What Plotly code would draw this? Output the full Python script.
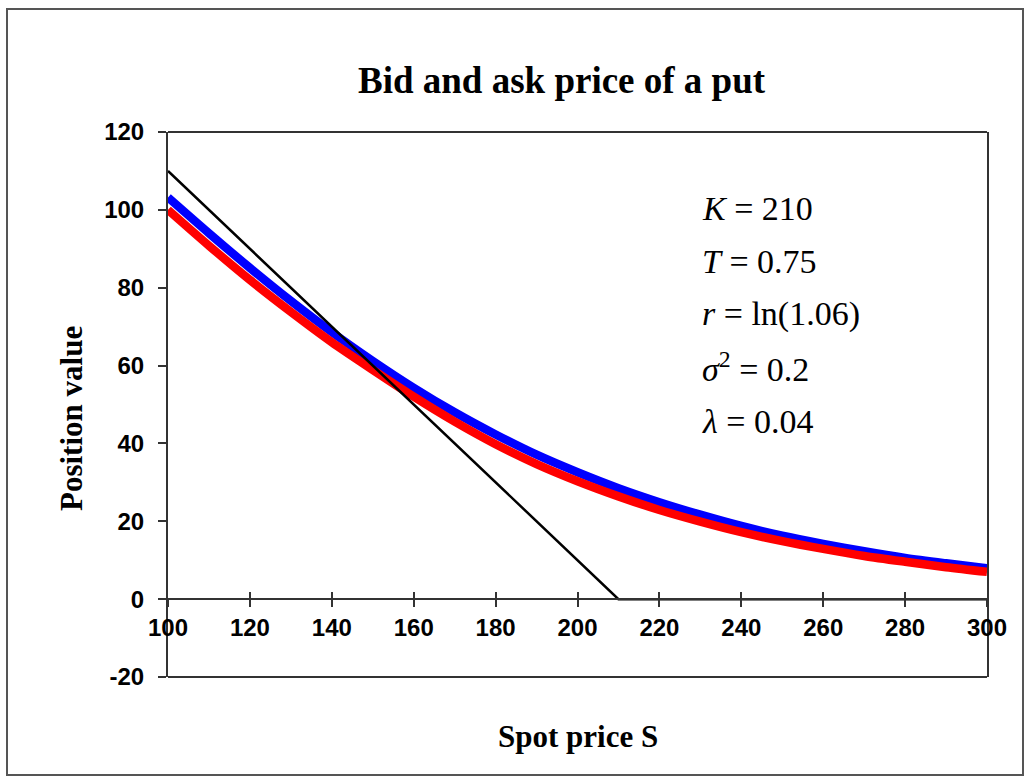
import plotly.graph_objects as go

# Spot prices and the two quoted put values (bid = red, ask = blue)
spot = [100, 110, 120, 130, 140, 150, 160, 170, 180, 190, 200,
        210, 220, 230, 240, 250, 260, 270, 280, 290, 300]
bid_price = [100.0, 90.8, 82.0, 73.8, 66.0, 58.9, 52.0, 45.6, 39.8, 34.7, 30.3,
             26.4, 22.9, 19.9, 17.2, 14.9, 12.9, 11.1, 9.6, 8.2, 7.0]
ask_price = [103.2, 94.0, 85.1, 76.6, 68.6, 61.2, 54.3, 48.0, 42.3, 37.1, 32.6,
             28.5, 24.9, 21.7, 18.8, 16.3, 14.2, 12.3, 10.6, 9.2, 7.9]

# Intrinsic value of the put, max(K - S, 0)
payoff_spot = [100, 210, 300]
payoff_value = [110, 0, 0]

# Parameter block
param_lines = [
    "<i>K</i> = 210",
    "<i>T</i> = 0.75",
    "<i>r</i> = ln(1.06)",
    "<i>σ</i><sup>2</sup> = 0.2",
    "<i>λ</i> = 0.04",
]

x_ticks = [100, 120, 140, 160, 180, 200, 220, 240, 260, 280, 300]
y_ticks = [-20, 0, 20, 40, 60, 80, 100, 120]

W, H = 1030, 783
L, R, T, B = 168, 43, 132, 106
pw, ph = W - L - R, H - T - B


def px(x):
    return (x - L) / pw


def py(y):
    return (H - B - y) / ph


fig = go.Figure()
fig.add_trace(go.Scatter(x=spot, y=ask_price, mode="lines",
                         line=dict(color="#0000FF", width=8.5, shape="spline", smoothing=0.8),
                         showlegend=False))
fig.add_trace(go.Scatter(x=spot, y=bid_price, mode="lines",
                         line=dict(color="#FF0000", width=8.5, shape="spline", smoothing=0.8),
                         showlegend=False))
fig.add_trace(go.Scatter(x=payoff_spot, y=payoff_value, mode="lines",
                         line=dict(color="#000000", width=2.5), showlegend=False))
# invisible trace carrying the upward half of the crossing x ticks
fig.add_trace(go.Scatter(x=[100], y=[0], xaxis="x2", mode="markers",
                         marker=dict(opacity=0), showlegend=False, hoverinfo="skip"))

zero_pos = (0 - (-20)) / 140
axis_color = "#333333"
tick_font = dict(family="Liberation Sans, Arial", size=24, color="black", weight="bold")

fig.update_layout(
    width=W, height=H,
    margin=dict(l=L, r=R, t=T, b=B),
    paper_bgcolor="white", plot_bgcolor="white",
    xaxis=dict(range=[100, 300], tickvals=x_ticks, ticktext=[str(v) for v in x_ticks],
               anchor="free", position=zero_pos, showline=True, linecolor=axis_color,
               linewidth=2, ticks="outside", ticklen=7, tickwidth=2, tickcolor=axis_color,
               showgrid=False, zeroline=False, tickfont=tick_font),
    xaxis2=dict(range=[100, 300], tickvals=x_ticks, overlaying="x", anchor="free",
                position=zero_pos, showline=False, ticks="inside", ticklen=7,
                tickwidth=2, tickcolor=axis_color, showticklabels=False,
                showgrid=False, zeroline=False),
    yaxis=dict(range=[-20, 120], tickvals=y_ticks, ticktext=[str(v) for v in y_ticks],
               domain=[0, 1], showline=True, linecolor=axis_color, linewidth=2,
               mirror=True, ticks="outside", ticklen=8, tickwidth=2, tickcolor=axis_color,
               showgrid=False, zeroline=False, tickfont=tick_font, ticklabelstandoff=9),
)

# top and bottom edges of the plot frame
fig.add_shape(type="line", xref="paper", yref="paper", x0=0, x1=1, y0=1, y1=1,
              line=dict(color=axis_color, width=2))
fig.add_shape(type="line", xref="paper", yref="paper", x0=0, x1=1, y0=0, y1=0,
              line=dict(color=axis_color, width=2))
# outer frame of the whole chart
fig.add_shape(type="rect", xref="paper", yref="paper",
              x0=px(7), x1=px(1023), y0=py(775), y1=py(9),
              line=dict(color="#555555", width=2))

serif = "Liberation Serif, Times New Roman, serif"
fig.add_annotation(text="<b>Bid and ask price of a put</b>", xref="paper", yref="paper",
                   x=px(562), y=py(81), xanchor="center", yanchor="middle", showarrow=False,
                   font=dict(family=serif, size=37, color="black"))
fig.add_annotation(text="<b>Spot price S</b>", xref="paper", yref="paper",
                   x=px(578), y=py(736), xanchor="center", yanchor="middle", showarrow=False,
                   font=dict(family=serif, size=31, color="black"))
fig.add_annotation(text="<b>Position value</b>", xref="paper", yref="paper",
                   x=px(71), y=py(419), xanchor="center", yanchor="middle", showarrow=False,
                   textangle=-90, font=dict(family=serif, size=31, color="black"))

line_y = [209, 261, 314, 367, 421]
for txt, yy in zip(param_lines, line_y):
    fig.add_annotation(text=txt, xref="paper", yref="paper", x=px(700), y=py(yy),
                       xanchor="left", yanchor="middle", showarrow=False,
                       font=dict(family=serif, size=34, color="black"))

fig.write_html("out.html")
